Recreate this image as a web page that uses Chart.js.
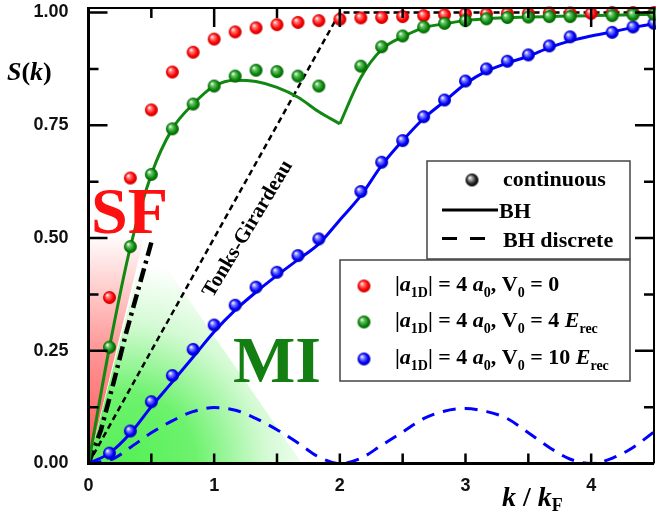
<!DOCTYPE html>
<html>
<head>
<meta charset="utf-8">
<script src="https://cdn.jsdelivr.net/npm/chart.js@4.4.0/dist/chart.umd.min.js"></script>
<style>
  html, body { margin: 0; padding: 0; background: #fff; overflow: hidden; }
  #wrap { width: 656px; height: 522px; overflow: hidden; }
  canvas { display: block; }
</style>
</head>
<body>
<div id="wrap"><canvas id="chart" width="662" height="522"></canvas></div>
<script>
// k / kF values of the "continuous" dots
const kDots = [0.167, 0.333, 0.5, 0.667, 0.833, 1.0, 1.167, 1.333, 1.5, 1.667, 1.833, 2.0, 2.167, 2.333,
               2.5, 2.667, 2.833, 3.0, 3.167, 3.333, 3.5, 3.667, 3.833, 4.0, 4.167, 4.333, 4.5];
const redDots   = [0.368, 0.633, 0.784, 0.868, 0.912, 0.941, 0.957, 0.966, 0.973, 0.978, 0.982, 0.985, 0.988, 0.989,
                   0.991, 0.993, 0.995, 0.997, 0.997, 0.998, 0.998, 0.999, 0.999, 0.998, 1.0, 1.0, 1.0];
const greenDots = [0.258, 0.481, 0.641, 0.742, 0.797, 0.837, 0.859, 0.872, 0.869, 0.859, 0.837, null, 0.881, 0.924,
                   0.948, 0.968, 0.976, 0.982, 0.986, 0.989, 0.990, 0.991, 0.991, null, 0.993, 0.995, 0.996];
const blueDots  = [0.023, 0.072, 0.137, 0.195, 0.253, 0.307, 0.351, 0.391, 0.424, 0.461, 0.498, null, 0.603, 0.668,
                   0.716, 0.769, 0.806, 0.848, 0.875, 0.892, 0.906, 0.926, 0.946, null, 0.956, 0.968, 0.976];

// BH solid curves (green has a cusp at k = 2, so it comes in two branches)
const kLine = [0, 0.167, 0.333, 0.5, 0.667, 0.833, 1.0, 1.167, 1.333, 1.5, 1.667, 1.833, 2.0, 2.167, 2.333,
               2.5, 2.667, 2.833, 3.0, 3.167, 3.333, 3.5, 3.667, 3.833, 4.0, 4.167, 4.333, 4.5];
const greenLineLowK = [0, 0.167, 0.333, 0.5, 0.667, 0.833, 1.0, 1.167, 1.333, 1.5, 1.667, 1.833, 2.0];
const greenLineLow  = [0, 0.258, 0.48, 0.641, 0.742, 0.797, 0.837, 0.85, 0.847, 0.834, 0.812, 0.78, 0.753];
const greenLineHighK = [2.0, 2.167, 2.333, 2.5, 2.667, 2.833, 3.0, 3.167, 3.333, 3.5, 3.667, 3.833, 4.0, 4.167, 4.333, 4.5];
const greenLineHigh  = [0.753, 0.856, 0.918, 0.946, 0.966, 0.975, 0.982, 0.986, 0.989, 0.99, 0.991, 0.992, 0.993, 0.994, 0.995, 0.996];
const blueLine  = [0, 0.023, 0.067, 0.126, 0.181, 0.236, 0.292, 0.34, 0.38, 0.417, 0.452, 0.487, 0.54, 0.594, 0.661,
                   0.716, 0.765, 0.803, 0.842, 0.87, 0.888, 0.903, 0.922, 0.937, 0.948, 0.957, 0.967, 0.975];

// BH discrete (dashed)
const blueDashK = [0, 0.2, 0.33, 0.5, 0.67, 0.83, 1.0, 1.17, 1.33, 1.5, 1.67, 1.83, 2.0, 2.17, 2.33, 2.5, 2.67,
                   2.83, 3.0, 3.17, 3.33, 3.5, 3.67, 3.83, 4.0, 4.17, 4.33, 4.5];
const blueDashS = [0, 0.011, 0.035, 0.068, 0.095, 0.115, 0.124, 0.118, 0.1, 0.075, 0.045, 0.015, 0, 0.012, 0.04,
                   0.07, 0.1, 0.116, 0.122, 0.115, 0.1, 0.068, 0.035, 0.01, 0, 0.012, 0.035, 0.07];
const blackDashK = [0, 0.1, 0.2, 0.3, 0.4, 0.5];
const blackDashS = [0, 0.075, 0.18, 0.29, 0.39, 0.49];

// Tonks-Girardeau
const tgK = [0, 2, 4.5];
const tgS = [0, 1, 1];

// shaded SF / MI regions (data coords)
const sfRegionK = [0, 0, 0.44];
const sfRegionS = [0, 0.5, 0.5];
const miRegionK = [0, 0.46, 1.7];
const miRegionS = [0, 0.5, 0];

const xTicks = [0, 1, 2, 3, 4];
const yTicks = [0, 0.25, 0.5, 0.75, 1.0];
const xMarks = [0.5, 1, 1.5, 2, 2.5, 3, 3.5, 4];
const yMarks = [0.125, 0.25, 0.375, 0.5, 0.625, 0.75, 0.875, 1.0];

const serif = '"Liberation Serif", "DejaVu Serif", serif';
const fB = 'bold 22px ' + serif, fBI = 'italic bold 22px ' + serif, fS = 'bold 14px ' + serif;
const legendHead = [['|', fB], ['a', fBI], ['1D', fS, 6], ['| = 4 ', fB], ['a', fBI], ['0', fS, 6], [', V', fB], ['0', fS, 6]];
const legendTails = [
  [[' = 0', fB]],
  [[' = 4 ', fB], ['E', fBI], ['rec', fS, 6]],
  [[' = 10 ', fB], ['E', fBI], ['rec', fS, 6]]
];

function pts(xs, ys) {
  const out = [];
  xs.forEach((x, i) => { if (ys[i] !== null) out.push({ x: x, y: ys[i] }); });
  return out;
}

function makeBall(c0, c1, c2) {
  const s = 15, r = 6.5;
  const cv = document.createElement('canvas');
  cv.width = s; cv.height = s;
  const g = cv.getContext('2d');
  const grad = g.createRadialGradient(s / 2 - 2.3, s / 2 - 2.5, 0.3, s / 2, s / 2, r);
  grad.addColorStop(0, '#ffffff');
  grad.addColorStop(0.25, c0);
  grad.addColorStop(0.7, c1);
  grad.addColorStop(1, c2);
  g.fillStyle = grad;
  g.beginPath(); g.arc(s / 2, s / 2, r, 0, Math.PI * 2); g.fill();
  return cv;
}

const redBall = makeBall('#ff8080', '#ff0000', '#c00000');
const greenBall = makeBall('#70c870', '#0a8a0a', '#035803');
const blueBall = makeBall('#8a8aff', '#0000ff', '#0000a8');
const blackBall = makeBall('#aaaaaa', '#222222', '#000000');

function richText(ctx, x, y, parts) {
  let cx = x;
  parts.forEach(([t, f, dy]) => {
    ctx.font = f;
    ctx.fillText(t, cx, y + (dy || 0));
    cx += ctx.measureText(t).width;
  });
}

const decor = {
  id: 'decor',
  beforeDatasetsDraw(chart) {
    const { ctx, scales: { x, y } } = chart;
    ctx.save();
    // MI region (green, radial fade)
    ctx.beginPath();
    miRegionK.forEach((k, i) => ctx.lineTo(x.getPixelForValue(k), y.getPixelForValue(miRegionS[i])));
    ctx.closePath();
    const cx = x.getPixelForValue(0.3), cy = y.getPixelForValue(0);
    const gg = ctx.createRadialGradient(cx, cy, 0, cx, cy, 200);
    gg.addColorStop(0, 'rgb(85,240,85)');
    gg.addColorStop(0.35, 'rgb(110,242,110)');
    gg.addColorStop(0.7, 'rgb(212,250,212)');
    gg.addColorStop(1, 'rgb(255,255,255)');
    ctx.fillStyle = gg;
    ctx.fill();
    // SF region (red, vertical fade)
    ctx.beginPath();
    sfRegionK.forEach((k, i) => ctx.lineTo(x.getPixelForValue(k), y.getPixelForValue(sfRegionS[i])));
    ctx.closePath();
    const rg = ctx.createLinearGradient(0, y.getPixelForValue(0), 0, y.getPixelForValue(0.5));
    rg.addColorStop(0, 'rgb(255,85,85)');
    rg.addColorStop(0.5, 'rgb(255,150,150)');
    rg.addColorStop(1, 'rgb(255,250,250)');
    ctx.fillStyle = rg;
    ctx.fill();
    ctx.restore();
  },
  afterDatasetsDraw(chart) {
    const { ctx } = chart;
    ctx.save();
    ctx.textBaseline = 'alphabetic';
    ctx.textAlign = 'left';
    ctx.fillStyle = '#ff1010';
    ctx.font = 'bold 66px ' + serif;
    ctx.fillText('SF', 91, 233);
    ctx.fillStyle = '#137f13';
    ctx.fillText('MI', 233, 382);
    // Tonks-Girardeau label
    ctx.save();
    ctx.translate(248, 229);
    ctx.rotate(-59 * Math.PI / 180);
    ctx.fillStyle = '#000';
    ctx.font = 'bold 21px ' + serif;
    ctx.textAlign = 'center';
    ctx.textBaseline = 'middle';
    ctx.fillText('Tonks-Girardeau', 0, 0);
    ctx.restore();
    ctx.restore();
  },
  afterDraw(chart) {
    const { ctx, chartArea: a, scales: { x, y } } = chart;
    ctx.save();
    ctx.strokeStyle = '#000';
    // frame
    ctx.lineWidth = 2;
    ctx.beginPath();
    ctx.moveTo(a.left, a.top); ctx.lineTo(a.right, a.top); ctx.lineTo(a.right, a.bottom);
    ctx.stroke();
    ctx.lineWidth = 3;
    ctx.beginPath();
    ctx.moveTo(a.left, a.top - 1); ctx.lineTo(a.left, a.bottom); ctx.lineTo(a.right, a.bottom);
    ctx.stroke();
    // inward ticks
    ctx.lineWidth = 2.5;
    ctx.beginPath();
    xMarks.forEach(v => {
      const px = x.getPixelForValue(v);
      const major = Number.isInteger(v);
      ctx.moveTo(px, a.bottom); ctx.lineTo(px, a.bottom - 10);
      ctx.moveTo(px, a.top); ctx.lineTo(px, a.top + (major ? 19 : 10));
    });
    yMarks.forEach(v => {
      const py = y.getPixelForValue(v);
      const major = Math.abs(v * 4 - Math.round(v * 4)) < 1e-6;
      const len = major ? 19 : 10;
      ctx.moveTo(a.left, py); ctx.lineTo(a.left + len, py);
      ctx.moveTo(a.right, py); ctx.lineTo(a.right - len, py);
    });
    ctx.stroke();

    // axis titles
    ctx.fillStyle = '#000';
    ctx.textAlign = 'left';
    ctx.textBaseline = 'alphabetic';
    const tBI = 'italic bold 26px ' + serif, tB = 'bold 26px ' + serif;
    richText(ctx, 7, 80, [['S', tBI], ['(', tB], ['k', tBI], [')', tB]]);
    const xBI = 'italic bold 28px ' + serif, xB = 'bold 28px ' + serif;
    richText(ctx, 502, 506, [['k', xBI], [' / ', xB], ['k', xBI], ['F', 'bold 18px ' + serif, 5]]);

    // legend boxes
    ctx.lineWidth = 1.5;
    ctx.strokeStyle = '#444';
    ctx.fillStyle = '#fff';
    ctx.fillRect(427, 161, 203, 98);
    ctx.strokeRect(427, 161, 203, 98);
    ctx.fillRect(340, 260, 290, 121);
    ctx.strokeRect(340, 260, 290, 121);

    ctx.fillStyle = '#000';
    ctx.drawImage(blackBall, 472 - 7.5, 180 - 7.5);
    ctx.font = fB;
    ctx.fillText('continuous', 503, 186);
    ctx.strokeStyle = '#000';
    ctx.lineWidth = 3;
    ctx.beginPath(); ctx.moveTo(442, 210); ctx.lineTo(498, 210); ctx.stroke();
    ctx.fillText('BH', 499, 218);
    ctx.beginPath();
    ctx.moveTo(442, 238.5); ctx.lineTo(457, 238.5);
    ctx.moveTo(470, 238.5); ctx.lineTo(485, 238.5);
    ctx.stroke();
    ctx.fillText('BH discrete', 503, 247);

    [redBall, greenBall, blueBall].forEach((b, i) => {
      const cy = [286, 322, 359][i];
      ctx.drawImage(b, 364 - 7.5, cy - 7.5);
      richText(ctx, 395, [291, 327, 364][i], legendHead.concat(legendTails[i]));
    });
    ctx.restore();
  }
};

const tickFont = { family: '"Liberation Sans", Arial, sans-serif', weight: 'bold', size: 18 };

const dotSet = (data, ball) => ({
  data: data, showLine: false, pointStyle: ball, pointRadius: 7, pointHoverRadius: 7, clip: false
});
const lineSet = (data, color, width, dash, extra) => Object.assign({
  data: data, showLine: true, borderColor: color, borderWidth: width, borderDash: dash,
  pointRadius: 0, fill: false, borderCapStyle: 'butt', borderJoinStyle: 'round'
}, extra || {});
const smooth = { cubicInterpolationMode: 'monotone' };

new Chart(document.getElementById('chart'), {
  type: 'line',
  data: {
    datasets: [
      dotSet(pts(kDots, greenDots), greenBall),
      dotSet(pts(kDots, blueDots), blueBall),
      dotSet(pts(kDots, redDots), redBall),
      lineSet(pts(kLine, blueLine), '#0000ff', 3, [], smooth),
      lineSet(pts(greenLineLowK, greenLineLow), '#118811', 3, [], smooth),
      lineSet(pts(greenLineHighK, greenLineHigh), '#118811', 3, [], smooth),
      lineSet(pts(tgK, tgS), '#000', 2.5, [6, 4]),
      lineSet(pts(blackDashK, blackDashS), '#000', 4.5, [14, 5, 3, 5]),
      lineSet(pts(blueDashK, blueDashS), '#0000ff', 3, [13, 9], smooth)
    ]
  },
  options: {
    responsive: false,
    animation: false,
    devicePixelRatio: 1,
    layout: { padding: { left: 0, top: 7.3, right: 4.7, bottom: 0 } },
    plugins: { legend: { display: false }, tooltip: { enabled: false } },
    scales: {
      x: {
        type: 'linear', min: 0, max: 4.5,
        afterBuildTicks: s => { s.ticks = xTicks.map(v => ({ value: v })); },
        afterFit: s => { s.height = 58.5; s.paddingLeft = 0; s.paddingRight = 0; },
        grid: { display: false, drawTicks: false },
        border: { display: false },
        ticks: { font: tickFont, color: '#111', padding: 12, maxRotation: 0, callback: v => String(v) }
      },
      y: {
        type: 'linear', min: 0, max: 1.01,
        afterBuildTicks: s => { s.ticks = yTicks.map(v => ({ value: v })); },
        afterFit: s => { s.width = 88.5; s.paddingTop = 0; s.paddingBottom = 0; },
        grid: { display: false, drawTicks: false },
        border: { display: false },
        ticks: { font: tickFont, color: '#111', padding: 20, callback: v => v.toFixed(2) }
      }
    }
  },
  plugins: [decor]
});
</script>
</body>
</html>
